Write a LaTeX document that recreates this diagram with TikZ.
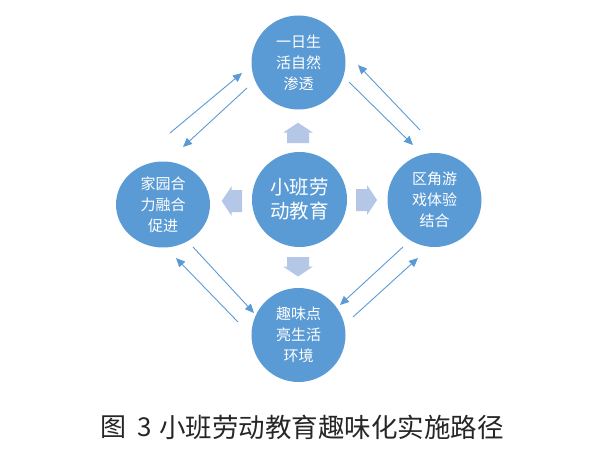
\documentclass[tikz,border=0pt]{standalone}
\usepackage{fontspec}
\setmainfont{Noto Sans CJK SC}
\usetikzlibrary{arrows.meta,shapes.geometric}
\definecolor{cblue}{HTML}{5B9BD5}
\definecolor{lblue}{HTML}{B4C7E7}
\begin{document}
\begin{tikzpicture}[x=1pt,y=-1pt,
  circ/.style={circle,fill=cblue,minimum size=94pt,inner sep=0pt,text=white,
    font=\fontsize{15}{21}\selectfont,align=center},
  conn/.style={draw=cblue,line width=0.9pt,-{Triangle[length=9pt,width=8pt]}},
  blk/.style={fill=lblue,draw=none},
  captxt/.style={anchor=west,inner sep=0pt,text=black!85}]
\useasboundingbox (0,0) rectangle (600,452);
% circles
\node[circ] (top) at (298.5,62.5) {一日生\\活自然\\渗透};
\node[circ,minimum size=95pt,font=\fontsize{19.5}{24}\selectfont] (mid) at (299.5,199.5) {小班劳\\动教育};
\node[circ] (right) at (434.5,200) {区角游\\戏体验\\结合};
\node[circ,ellipse,minimum width=94pt,minimum height=86pt] (left) at (163,204.5) {家园合\\力融合\\促进};
\node[circ] (bot) at (298.5,335) {趣味点\\亮生活\\环境};
% block arrows
\fill[blk] (283,132.7) -- (298,122.7) -- (313,132.7) -- (309,132.7) -- (309,143) -- (287,143) -- (287,132.7) -- cycle;
\fill[blk] (283,266.5) -- (298,276.5) -- (313,266.5) -- (309,266.5) -- (309,257) -- (287,257) -- (287,266.5) -- cycle;
\fill[blk] (367,185) -- (377,200) -- (367,215) -- (367,211) -- (356,211) -- (356,189) -- (367,189) -- cycle;
\fill[blk] (231.7,186) -- (221.7,201) -- (231.7,216) -- (231.7,212) -- (242,212) -- (242,190) -- (231.7,190) -- cycle;
% connector end points
\coordinate (a1) at (170,133); \coordinate (a2) at (242,73);
\coordinate (b1) at (247,88);  \coordinate (b2) at (183,147);
\coordinate (c1) at (349,82);  \coordinate (c2) at (413,145);
\coordinate (d1) at (420,130); \coordinate (d2) at (358,65);
\coordinate (e1) at (193,247); \coordinate (e2) at (254,313);
\coordinate (f1) at (238,322); \coordinate (f2) at (176,258);
\coordinate (g1) at (403,247); \coordinate (g2) at (340,305);
\coordinate (h1) at (353,317); \coordinate (h2) at (418,258);
\draw[conn] (a1) -- (a2);
\draw[conn] (b1) -- (b2);
\draw[conn] (c1) -- (c2);
\draw[conn] (d1) -- (d2);
\draw[conn] (e1) -- (e2);
\draw[conn] (f1) -- (f2);
\draw[conn] (g1) -- (g2);
\draw[conn] (h1) -- (h2);
% caption
\node[captxt,font=\fontsize{26}{26}\selectfont] (cap1) at (100,427) {图\hspace{0.45em}3};
\node[captxt,font=\fontsize{26.5}{26.5}\selectfont] (cap2) at (159,427) {小班劳动教育趣味化实施路径};
\end{tikzpicture}
\end{document}
